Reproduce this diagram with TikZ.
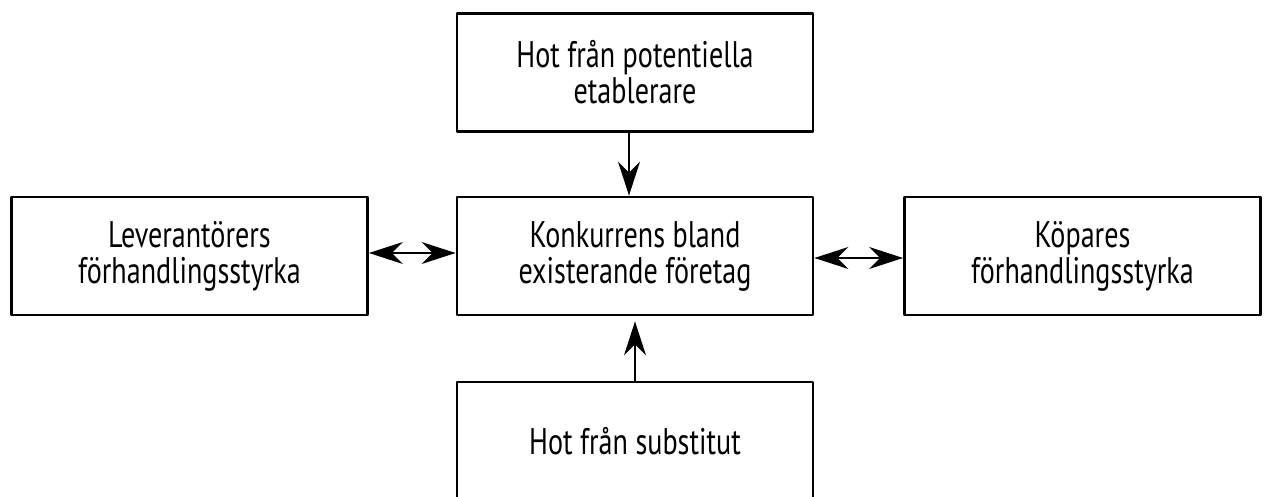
\documentclass[tikz,border=0pt]{standalone}
\usepackage{fontspec}
\setmainfont[FakeStretch=0.76]{PT Sans}
\usetikzlibrary{arrows.meta}
\usetikzlibrary{shapes}

\begin{document}
\begin{tikzpicture}[>={Stealth[length=17bp,width=11bp]},line join=bevel,
  force/.style={draw,line width=1.4bp,minimum width=178bp,minimum height=59bp,
    align=center,font=\fontsize{18.5bp}{18bp}\selectfont},]
%%
\useasboundingbox (0bp,0bp) rectangle (632bp,248.5bp);
\node (node_entry) at (317.5bp,212.25bp) [force] {Hot från potentiella\\etablerare};
  \node (node_rivalry) at (317.5bp,120.5bp) [force] {Konkurrens bland\\existerande företag};
  \node (node_supplier) at (94.75bp,120.5bp) [force] {Leverantörers\\förhandlingsstyrka};
  \node (node_buyer) at (541.25bp,120.5bp) [force] {Köpares\\förhandlingsstyrka};
  \node (node_subst) at (317.5bp,28bp) [force] {Hot från substitut};
  \draw [black,line width=1bp,->] ([xshift=-3bp]node_entry.south) -- ([xshift=-3bp]node_rivalry.north);
  \draw [black,line width=1bp,->] (node_subst.north) -- ([yshift=-2.5bp]node_rivalry.south);
  \draw [black,line width=1bp,<->] ([yshift=1.5bp]node_supplier.east) -- ([yshift=1.5bp]node_rivalry.west);
  \draw [black,line width=1bp,<->] ([yshift=-1bp]node_rivalry.east) -- ([yshift=-1bp]node_buyer.west);
%
\end{tikzpicture}
\end{document}
